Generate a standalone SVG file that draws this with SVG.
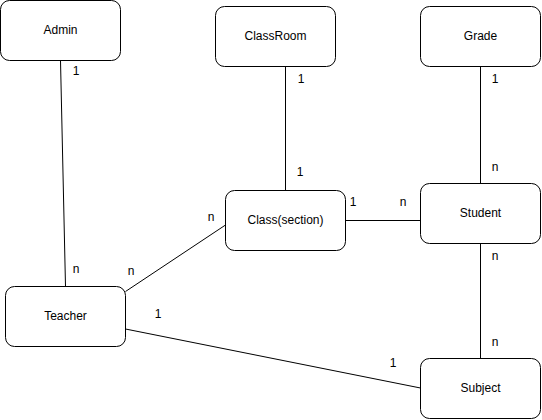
<svg xmlns="http://www.w3.org/2000/svg" width="542" height="420" viewBox="0 0 542 420">
  <style>
    .node rect { fill: #ffffff; stroke: #000000; stroke-width: 1; }
    .node text { font-family: "Liberation Sans", Arial, Helvetica, sans-serif; font-size: 12px; fill: #000000; text-anchor: middle; dominant-baseline: central; }
    .edges line { stroke: #000000; stroke-width: 1; }
    .card { font-family: "Liberation Sans", Arial, Helvetica, sans-serif; font-size: 12px; fill: #000000; text-anchor: middle; dominant-baseline: central; }
  </style>
  <rect width="542" height="420" fill="#ffffff"/>

  <!-- relationships -->
  <g id="edges" class="edges">
    <line x1="60.5" y1="60.5" x2="65.5" y2="286.5"/>
    <line x1="285.5" y1="66.5" x2="285.5" y2="190.5"/>
    <line x1="480.5" y1="66.5" x2="480.5" y2="183.5"/>
    <line x1="345.5" y1="220.5" x2="420.5" y2="220.5"/>
    <line x1="480.5" y1="243.5" x2="480.5" y2="358.5"/>
    <line x1="125.5" y1="291.5" x2="225.5" y2="225"/>
    <line x1="125.5" y1="329" x2="420.5" y2="388"/>
  </g>

  <!-- cardinalities -->
  <g id="labels">
    <text class="card" x="76" y="71">1</text>
    <text class="card" x="76" y="269">n</text>
    <text class="card" x="301" y="79">1</text>
    <text class="card" x="300" y="172">1</text>
    <text class="card" x="495" y="79">1</text>
    <text class="card" x="495" y="167">n</text>
    <text class="card" x="353" y="202">1</text>
    <text class="card" x="403" y="202">n</text>
    <text class="card" x="211" y="217">n</text>
    <text class="card" x="131" y="271">n</text>
    <text class="card" x="158" y="314">1</text>
    <text class="card" x="393" y="363">1</text>
    <text class="card" x="495" y="256">n</text>
    <text class="card" x="495" y="342">n</text>
  </g>

  <g id="admin" class="node">
    <rect x="0.5" y="0.5" width="120" height="60" rx="9" ry="9"/>
    <text x="60.5" y="29.5">Admin</text>
  </g>
  <g id="classroom" class="node">
    <rect x="215.5" y="6.5" width="120" height="60" rx="9" ry="9"/>
    <text x="275.5" y="35.5">ClassRoom</text>
  </g>
  <g id="grade" class="node">
    <rect x="420.5" y="6.5" width="120" height="60" rx="9" ry="9"/>
    <text x="480.5" y="35.5">Grade</text>
  </g>
  <g id="class-section" class="node">
    <rect x="225.5" y="190.5" width="120" height="60" rx="9" ry="9"/>
    <text x="285.5" y="219.5">Class(section)</text>
  </g>
  <g id="student" class="node">
    <rect x="420.5" y="183.5" width="120" height="60" rx="9" ry="9"/>
    <text x="480.5" y="212.5">Student</text>
  </g>
  <g id="teacher" class="node">
    <rect x="5.5" y="286.5" width="120" height="60" rx="9" ry="9"/>
    <text x="65.5" y="315.5">Teacher</text>
  </g>
  <g id="subject" class="node">
    <rect x="420.5" y="358.5" width="120" height="60" rx="9" ry="9"/>
    <text x="480.5" y="387.5">Subject</text>
  </g>
</svg>
